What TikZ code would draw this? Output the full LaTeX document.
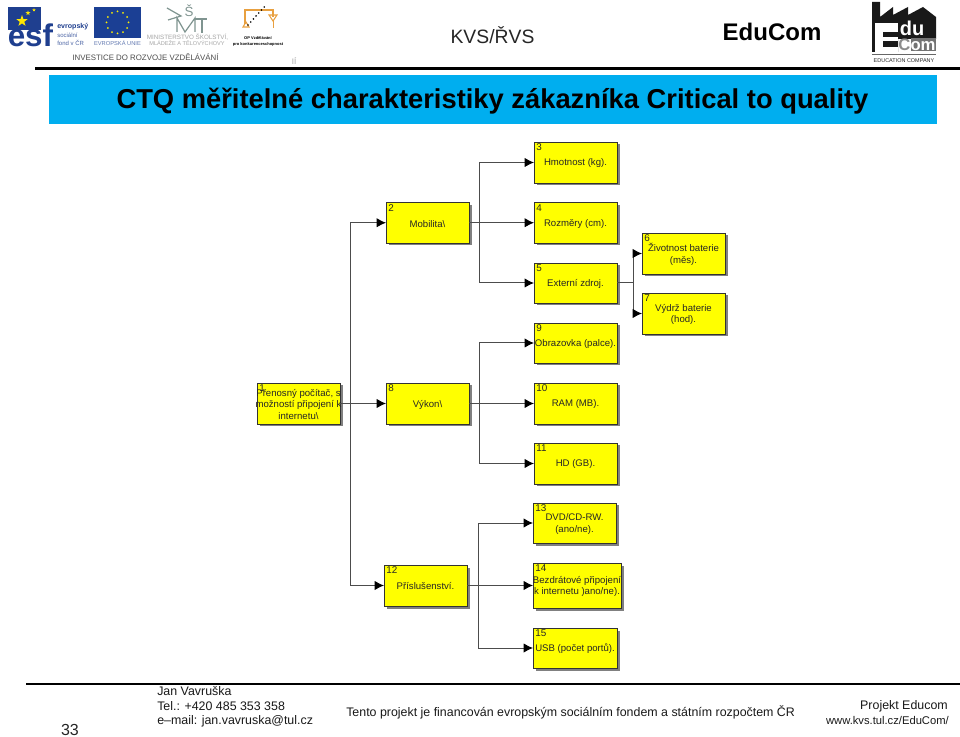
\documentclass[tikz,border=0pt]{standalone}
\usepackage{fontspec}
\setmainfont{Liberation Sans}
\usetikzlibrary{arrows.meta,shapes.geometric}
\definecolor{boxy}{HTML}{FFFF00}
\definecolor{barblue}{HTML}{00AEEF}
\definecolor{esfblue}{HTML}{1F3F8F}
\definecolor{euflag}{HTML}{1B3F94}
\definecolor{msmt}{HTML}{7F9490}
\definecolor{oporange}{HTML}{E8A040}
\tikzset{
  px/.style={x=0.75pt,y=-0.75pt},
  blk/.style={draw=black!80,line width=0.55pt,fill=boxy},
  shad/.style={fill=black!50,draw=none},
  lbl/.style={font=\fontsize{7.2pt}{8.8pt}\selectfont,align=center,text=black!85,inner sep=0pt},
  num/.style={font=\fontsize{7.4pt}{8pt}\selectfont,text=black!85,inner sep=0pt,anchor=north west},
  wire/.style={draw=black!70,line width=0.75pt},
  arr/.style={wire,-{Latex[length=7pt,width=7pt,black]}},
  foot/.style={font=\fontsize{9.3pt}{11pt}\selectfont,inner sep=0pt,text=black!90},
  msline/.style={draw=msmt,line width=0.9pt},
}
\newcommand{\blockbox}[7]{% name, x1,y1,x2,y2, number, text
  \fill[shad] (#2+2.5,#3+2.5) rectangle (#4+2.5,#5+2.5);
  \path[blk] (#2,#3) rectangle (#4,#5);
  \coordinate (#1w) at (#2,{(#3+#5)/2});
  \coordinate (#1e) at (#4,{(#3+#5)/2});
  \node[num] (#1n) at (#2+2,#3+1.5) {#6};
  \node[lbl] (#1t) at ({(#2+#4)/2},{(#3+#5)/2+1}) {#7};
}
\begin{document}
\begin{tikzpicture}[px]
\useasboundingbox (0,0) rectangle (960,737);
\fill[white] (0,0) rectangle (960,737);
% header rule and bar
\fill[black] (35,67) rectangle (960,70);
\fill[barblue] (49,75) rectangle (937,124);
\node[font=\bfseries\fontsize{20.5pt}{24pt}\selectfont,inner sep=0pt] (title) at (492.5,101) {CTQ měřitelné charakteristiky zákazníka Critical to quality};
\node[font=\fontsize{14.5pt}{18pt}\selectfont,inner sep=0pt,text=black!85] (kvs) at (492.5,35) {KVS/ŘVS};
\node[font=\bfseries\fontsize{18pt}{20pt}\selectfont,inner sep=0pt] (edu) at (772,32) {EduCom};
% ESF logo
\fill[esfblue] (8,7) rectangle (41,30);
\foreach \sx/\sy/\r in {22/21/6,28/13/2.6,34/10/1.8}{
  \fill[yellow!90!orange] (\sx,\sy-\r)
    \foreach \k in {1,...,9}{ -- ({\sx+(\r*(1-0.6*mod(\k,2)))*sin(36*\k)},{\sy-(\r*(1-0.6*mod(\k,2)))*cos(36*\k)}) } -- cycle;
}
\node[font=\bfseries\fontsize{23.5pt}{24pt}\selectfont,text=esfblue,inner sep=0pt,anchor=base west] (esf) at (7.5,47) {esf};
\node[font=\bfseries\fontsize{5.3pt}{6pt}\selectfont,text=esfblue,inner sep=0pt,anchor=west] (esf1) at (57,27) {evropský};
\node[font=\fontsize{4.5pt}{6.6pt}\selectfont,text=esfblue!80,inner sep=0pt,anchor=north west,align=left] (esf2) at (57,32.5) {sociální\\fond v ČR};
% EU flag
\fill[euflag] (94,7) rectangle (141,38);
\foreach \a in {0,30,...,330}{\fill[yellow] ({117.5+11*cos(\a)},{22.5+11*sin(\a)}) circle (1);}
\node[font=\fontsize{4.3pt}{5pt}\selectfont,text=esfblue!70,inner sep=0pt] (eu) at (117.5,43.5) {EVROPSKÁ UNIE};
% MSMT logo
\draw[msline] (167,8) -- (181,16) -- (168,20);
\node[font=\fontsize{10pt}{10pt}\selectfont,text=msmt,inner sep=0pt] (ms) at (189,11) {Š};
\draw[msline] (177,32) -- (177,18) -- (185,32) -- (195,18) -- (195,32);
\draw[msline] (195,19) -- (207,19);
\draw[msline] (202,19) -- (202,33);
\node[font=\fontsize{4.7pt}{5pt}\selectfont,text=black!35,inner sep=0pt] (m3) at (187.5,37.5) {MINISTERSTVO ŠKOLSTVÍ,};
\node[font=\fontsize{4.2pt}{5pt}\selectfont,text=black!35,inner sep=0pt] (m4) at (187,43.5) {MLÁDEŽE A TĚLOVÝCHOVY};
% OP logo
\draw[oporange,line width=1.5pt] (245,24) -- (245,10) -- (273,10) -- (273,17);
\draw[oporange,line width=0.8pt] (243,27) -- (249,27) -- (246,22) -- cycle;
\draw[oporange,line width=0.8pt] (269,15) -- (277,15) -- (273,21) -- cycle;
\draw[oporange,line width=0.4pt] (273,21) -- (273,28);
\foreach \i in {0,...,6}{\fill[black] ({248+\i*2.7},{25-\i*3}) circle (0.9);}
\node[font=\bfseries\fontsize{3pt}{4.5pt}\selectfont,inner sep=0pt,align=center] (op) at (258,41) {OP Vzdělávání\\pro konkurenceschopnost};
\node[font=\fontsize{5.9pt}{8pt}\selectfont,text=black!70,inner sep=0pt] (inv) at (145.5,57) {INVESTICE DO ROZVOJE VZDĚLÁVÁNÍ};
\node[font=\fontsize{6pt}{7pt}\selectfont,text=black!35,inner sep=0pt] (ii) at (294,61) {IÍ};
% EduCom logo
\fill[black!90] (872,2) -- (880,2) -- (880,17) -- (893,7) -- (893,15) -- (908,7) -- (908,15) -- (923,7) -- (936,17) -- (936,39) -- (898,39) -- (898,52) -- (872,52) -- cycle;
\fill[white] (875,23) rectangle (898,52);
\fill[black!90] (883,32) rectangle (898,37);
\fill[black!90] (883,41) rectangle (898,47);
\fill[black!55] (911,38) rectangle (936,51);
\node[font=\bfseries\fontsize{15pt}{15pt}\selectfont,text=white,inner sep=0pt] (du) at (912,28) {du};
\node[font=\bfseries\fontsize{12.5pt}{13pt}\selectfont,inner sep=0pt] (com) at (917,44.5) {\textcolor{black!45}{C}\textcolor{white}{om}};
\fill[black!60] (872,54) rectangle (936,55);
\node[font=\fontsize{4.1pt}{5pt}\selectfont,inner sep=0pt,text=black!85] (eco) at (904,60.5) {EDUCATION COMPANY};
% blocks
\blockbox{n1}{257}{383}{340}{424}{1}{Přenosný počítač, s\\možností připojení k\\internetu\textbackslash}
\blockbox{n2}{386}{202.5}{469}{243}{2}{Mobilita\textbackslash}
\blockbox{n8}{386}{383}{469}{424}{8}{Výkon\textbackslash}
\blockbox{n12}{384}{565}{467}{606}{12}{Příslušenství.}
\blockbox{n3}{534}{142}{617}{183}{3}{Hmotnost (kg).}
\blockbox{n4}{534}{202.5}{617}{243}{4}{Rozměry (cm).}
\blockbox{n5}{534}{263}{617}{303}{5}{Externí zdroj.}
\blockbox{n9}{534}{323}{617}{363}{9}{Obrazovka (palce).}
\blockbox{n10}{534}{383}{617}{424}{10}{RAM (MB).}
\blockbox{n11}{534}{443}{617}{484}{11}{HD (GB).}
\blockbox{n6}{642}{233}{725}{274}{6}{Životnost baterie\\(měs).}
\blockbox{n7}{642}{293}{725}{334}{7}{Výdrž baterie\\(hod).}
\blockbox{n13}{533}{503}{616}{543}{13}{DVD/CD-RW.\\(ano/ne).}
\blockbox{n14}{533}{563}{621}{608}{14}{Bezdrátové připojení\\k internetu )ano/ne).}
\blockbox{n15}{533}{628}{617}{668}{15}{USB (počet portů).}
% connectors
\coordinate (t1) at (350,403.5);
\coordinate (t2) at (479,222.75);
\coordinate (t3) at (479,403.5);
\coordinate (t4) at (478,585.5);
\coordinate (t5) at (633,283);
\draw[arr] (n1e) -- (n8w);
\draw[arr] (t1) |- (n2w);
\draw[arr] (t1) |- (n12w);
\draw[arr] (n2e) -- (n4w);
\draw[arr] (t2) |- (n3w);
\draw[arr] (t2) |- (n5w);
\draw[arr] (n8e) -- (n10w);
\draw[arr] (t3) |- (n9w);
\draw[arr] (t3) |- (n11w);
\draw[arr] (n12e) -- (n14w);
\draw[arr] (t4) |- (n13w);
\draw[arr] (t4) |- (n15w);
\draw[wire] (n5e) -- (t5);
\draw[arr] (t5) |- (n6w);
\draw[arr] (t5) |- (n7w);
% footer
\fill[black] (26,683) rectangle (960,684.5);
\node[font=\fontsize{12pt}{14pt}\selectfont,inner sep=0pt,text=black!85] (pg) at (70,730) {33};
\node[foot,anchor=west] (f1) at (157,691.5) {Jan Vavruška};
\node[foot,anchor=west] (f2) at (157,706.5) {Tel.: +420 485 353 358};
\node[foot,anchor=west] (f3) at (157,721) {e–mail: jan.vavruska@tul.cz};
\node[foot,anchor=west] (f4) at (346,712.5) {Tento projekt je financován evropským sociálním fondem a státním rozpočtem ČR};
\node[foot,anchor=east] (f5) at (948,706) {Projekt Educom};
\node[foot,anchor=east,font=\fontsize{8.4pt}{10pt}\selectfont] (f6) at (949,720) {www.kvs.tul.cz/EduCom/};
\end{tikzpicture}
\end{document}
